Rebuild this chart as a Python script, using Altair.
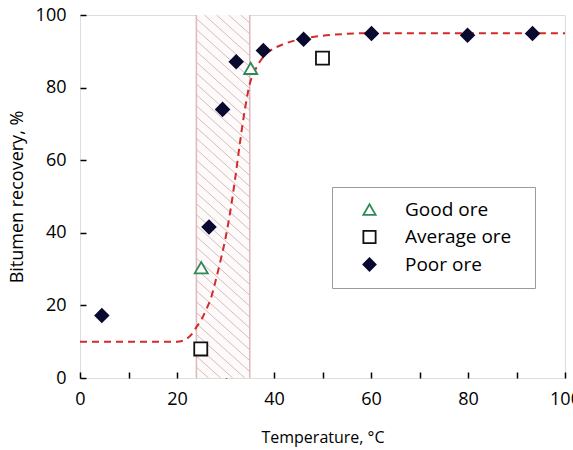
import altair as alt
import pandas as pd

# ---- data ----
good_x = [25.0, 35.2]
good_y = [30.4, 85.3]
avg_x = [24.9, 50.0]
avg_y = [8.0, 88.1]
poor_x = [4.5, 26.6, 29.4, 32.2, 37.8, 46.1, 60.1, 79.9, 93.3]
poor_y = [17.2, 41.6, 74.0, 87.1, 90.2, 93.3, 94.9, 94.4, 94.9]

curve_x = [0, 20, 21, 22, 23, 24, 25, 26, 27, 28, 29, 30, 31, 32, 33, 34, 35, 36, 37, 38, 40, 42, 45, 50, 55, 60, 100]
curve_y = [10, 10, 10.2, 10.8, 12, 14, 16, 18.8, 22, 27, 32.5, 38.5, 46, 55, 65, 74, 81, 84.5, 87, 88.8, 90.8, 92, 93.2, 94.3, 94.8, 95, 95]

band_lo, band_hi = 24, 35
series_names = ["Good ore", "Average ore", "Poor ore"]
x_ticks = list(range(0, 101, 5))
y_ticks = [0, 20, 40, 60, 80, 100]

W, H = 485, 363
FONT = "Open Sans"

# ---- tables ----
pts = pd.concat([
    pd.DataFrame({"x": good_x, "y": good_y, "ore": "Good ore"}),
    pd.DataFrame({"x": avg_x, "y": avg_y, "ore": "Average ore"}),
    pd.DataFrame({"x": poor_x, "y": poor_y, "ore": "Poor ore"}),
], ignore_index=True)
curve = pd.DataFrame({"x": curve_x, "y": curve_y})
band = pd.DataFrame({"x": [band_lo], "x2": [band_hi], "y": [0], "y2": [100]})
edges = pd.DataFrame({"x": [band_lo, band_hi]})

# hatch pattern segments (about 45 degrees on screen), clipped to the band
k = 0.9 * (W / 100) / (H / 100)
spacing = 3.0
segs = []
c = 0.0
top_c = 100 + k * (band_hi - band_lo)
while c <= top_c + 1e-9:
    xs = max(band_lo, band_lo + (c - 100) / k)
    xe = min(band_hi, band_lo + c / k)
    if xe > xs:
        segs.append({"x": xs, "y": c - k * (xs - band_lo), "x2": xe, "y2": c - k * (xe - band_lo)})
    c += spacing
hatch = pd.DataFrame(segs)

xscale = alt.Scale(domain=[0, 100], nice=False, zero=False)
yscale = alt.Scale(domain=[0, 100], nice=False, zero=False)

xaxis = alt.Axis(values=x_ticks, labelExpr="datum.value % 20 == 0 ? datum.label : ''",
                 offset=-6, tickSize=6, tickWidth=1.5, tickColor="black", domain=False, grid=False,
                 labelPadding=12, labelFontSize=18, labelFont=FONT, labelColor="black",
                 labelFlush=False, labelOverlap=False,
                 title="Temperature, °C", titleFont=FONT, titleFontSize=16, titleFontWeight="normal",
                 titleColor="black", titlePadding=21)
yaxis = alt.Axis(values=y_ticks, offset=-6, tickSize=6, tickWidth=1.5, tickColor="black",
                 domain=False, grid=False, labelPadding=14, labelFontSize=18, labelFont=FONT,
                 labelColor="black", labelFlush=False, labelOverlap=False,
                 title="Bitumen recovery, %", titleFont=FONT, titleFontSize=18, titleFontWeight="normal",
                 titleColor="black", titlePadding=9)

band_layer = alt.Chart(band).mark_rect(color="#fefafa").encode(
    x=alt.X("x:Q", scale=xscale, axis=xaxis), x2="x2:Q",
    y=alt.Y("y:Q", scale=yscale, axis=yaxis), y2="y2:Q")

hatch_layer = alt.Chart(hatch).mark_rule(color="#c7adb2", strokeWidth=0.8).encode(
    x=alt.X("x:Q", scale=xscale), x2="x2:Q", y=alt.Y("y:Q", scale=yscale), y2="y2:Q")

edge_layer = alt.Chart(edges).mark_rule(color="#dfb8bc", strokeWidth=1.5).encode(
    x=alt.X("x:Q", scale=xscale))

curve_layer = alt.Chart(curve).mark_line(color="#d42a2a", strokeWidth=2, strokeDash=[7, 5],
                                        interpolate="monotone").encode(
    x=alt.X("x:Q", scale=xscale), y=alt.Y("y:Q", scale=yscale))

legend = alt.Legend(orient="none", legendX=252, legendY=172, title=None, padding=13,
                    strokeColor="#9a9a9a", fillColor="white",
                    symbolOffset=15, labelOffset=26, rowPadding=6.5, labelFontSize=19, labelFont=FONT,
                    labelColor="black", symbolSize=150, symbolStrokeWidth=1.8,
                    labelExpr="datum.label + '\u00a0\u00a0\u200b'")

point_layer = alt.Chart(pts).mark_point(filled=True, size=170, strokeWidth=1.8, opacity=1).encode(
    x=alt.X("x:Q", scale=xscale), y=alt.Y("y:Q", scale=yscale),
    shape=alt.Shape("ore:N", scale=alt.Scale(domain=series_names, range=["triangle-up", "square", "diamond"]), legend=legend),
    stroke=alt.Stroke("ore:N", scale=alt.Scale(domain=series_names, range=["#2e8a57", "#111111", "#0a0a30"]), legend=legend),
    fill=alt.Fill("ore:N", scale=alt.Scale(domain=series_names, range=["white", "white", "#0a0a30"]), legend=legend),
)

chart = alt.layer(band_layer, hatch_layer, edge_layer, curve_layer, point_layer).properties(
    width=W, height=H,
    padding={"left": 80, "top": 15, "right": 8, "bottom": 72},
    autosize=alt.AutoSizeParams(type="none"),
).configure_view(stroke="black", strokeWidth=2).configure_legend(
    strokeWidth=1.5, cornerRadius=2
).configure(background="white")

chart.save("out.html", embed_options={"renderer": "svg", "actions": False})
